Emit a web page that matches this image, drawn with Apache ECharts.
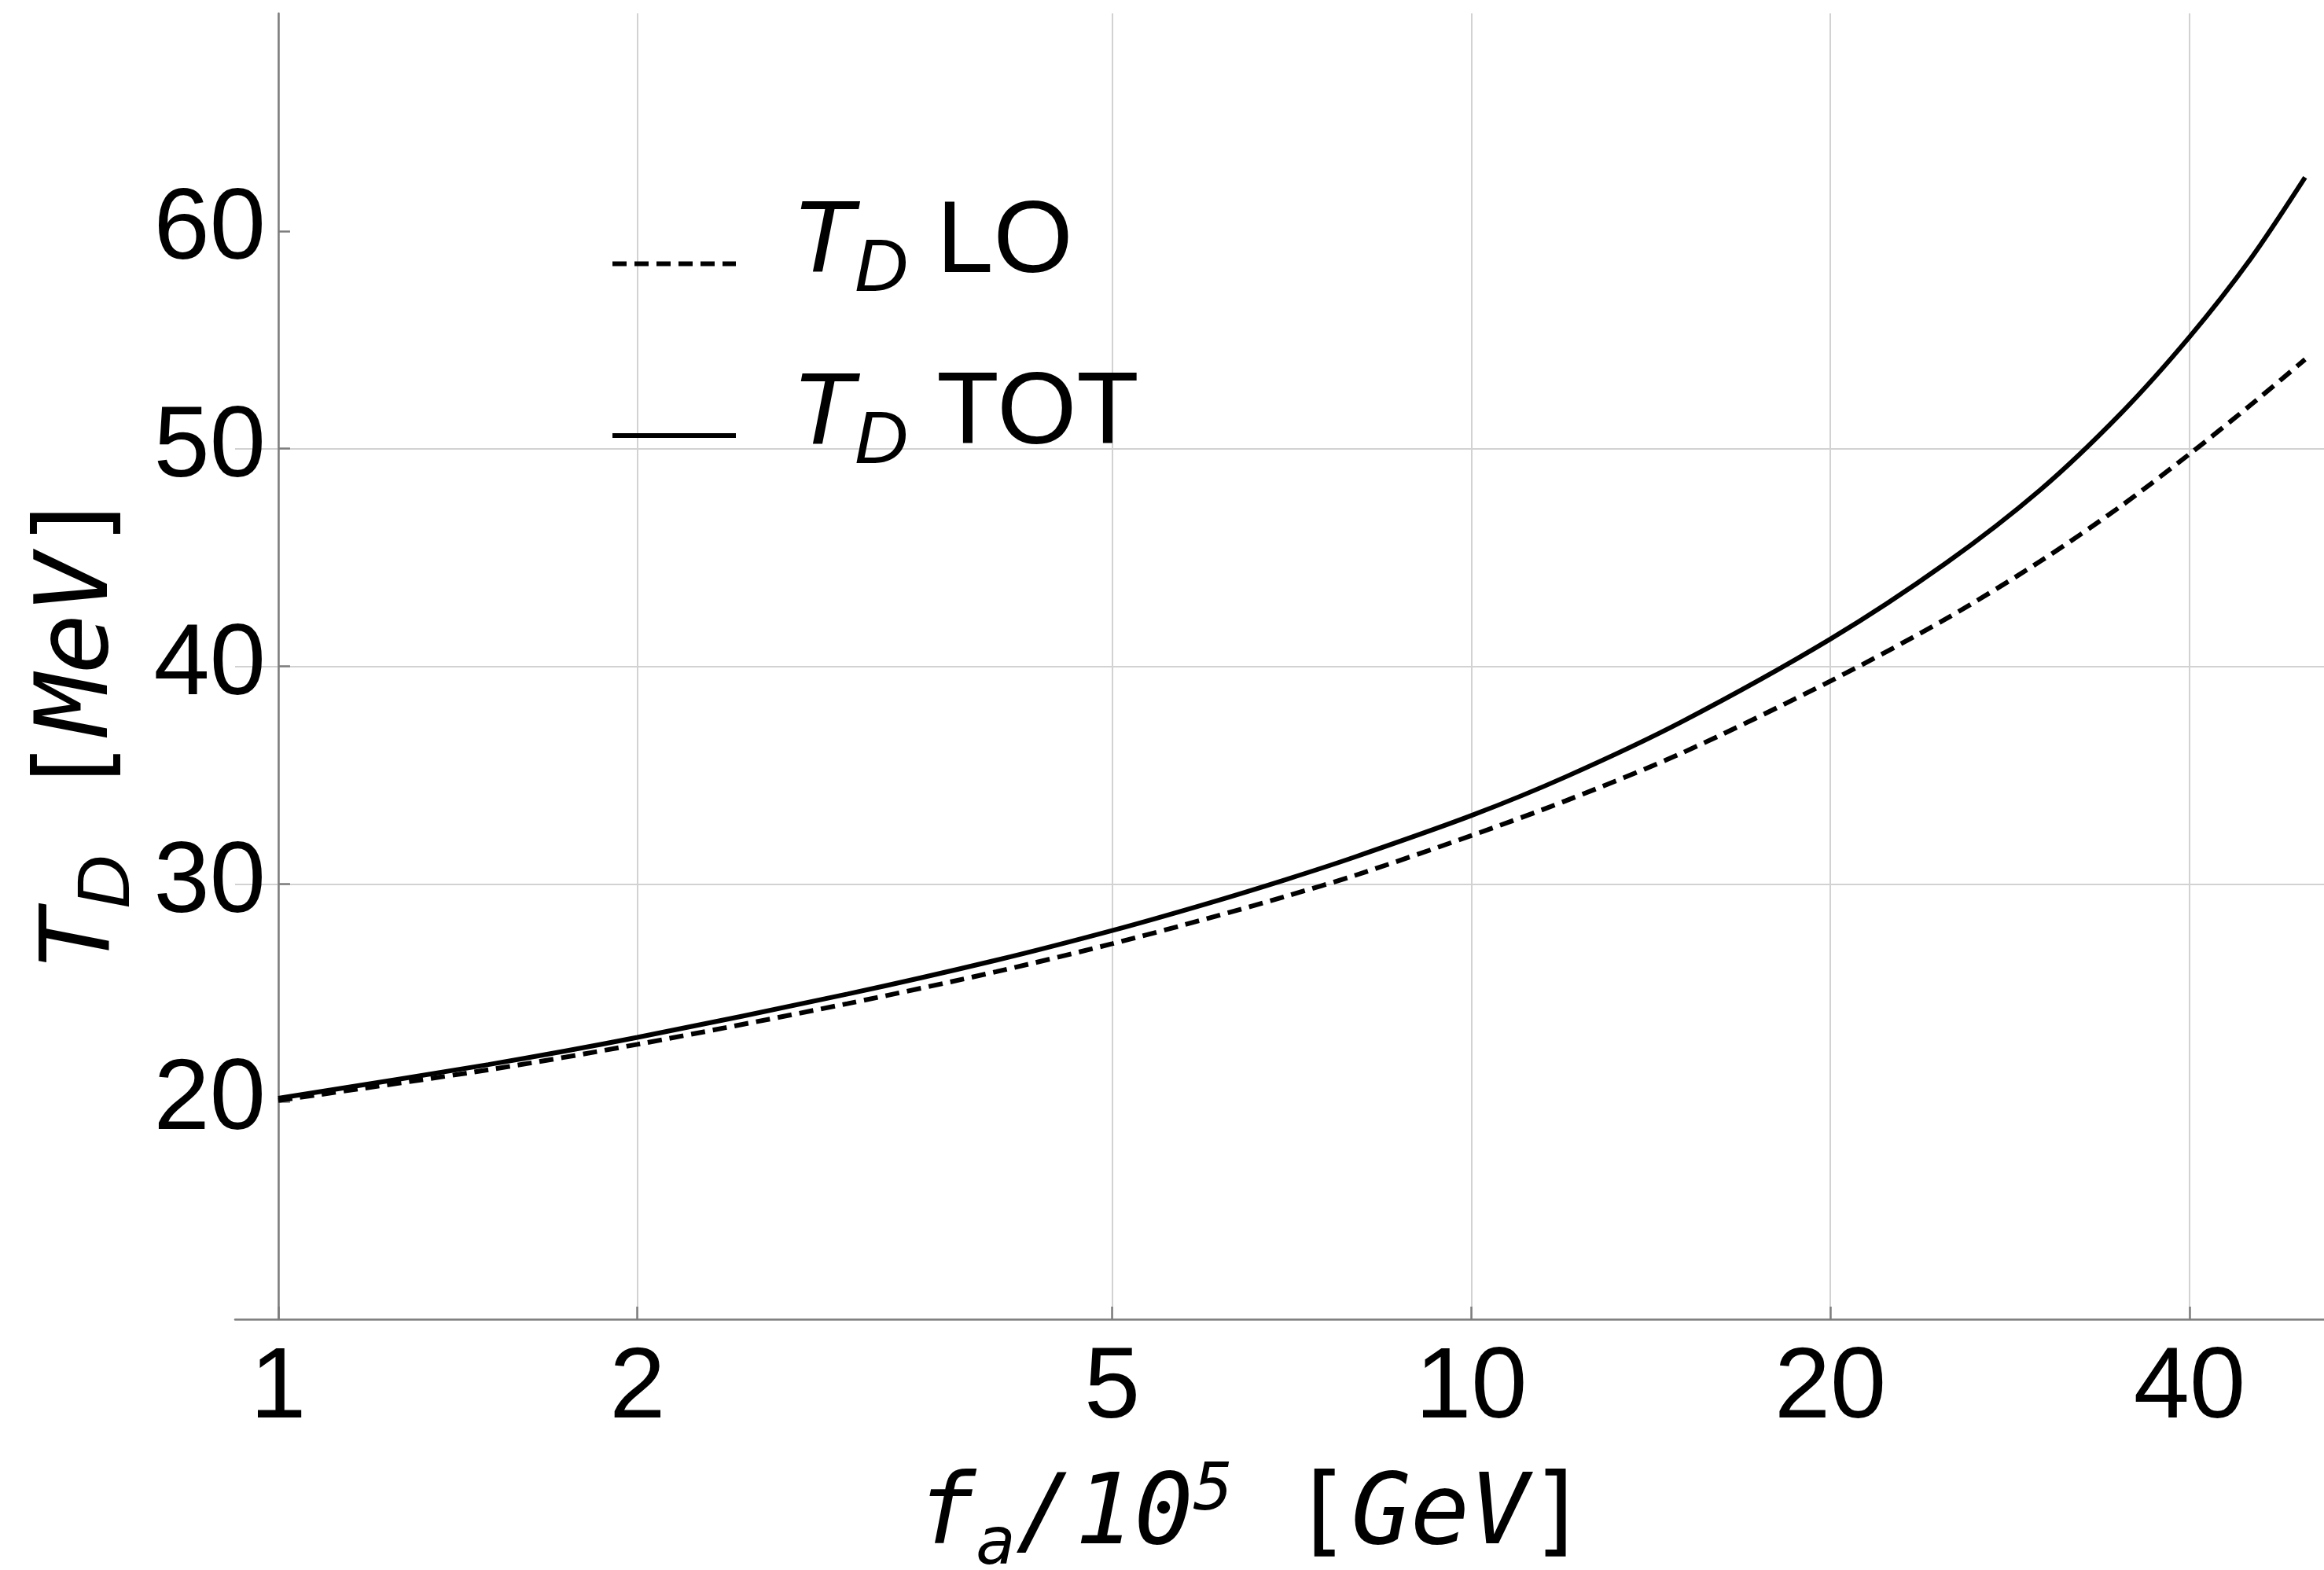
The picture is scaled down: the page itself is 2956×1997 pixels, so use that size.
<!DOCTYPE html>
<html>
<head>
<meta charset="utf-8">
<style>
  html, body { margin: 0; padding: 0; background: #fff; }
  #chart { width: 2956px; height: 1997px; }
</style>
<script src="https://cdn.jsdelivr.net/npm/echarts@6/dist/echarts.min.js"></script>
</head>
<body>
<div id="chart"></div>
<script>
// f_a / 10^5 GeV
var fa = [1, 1.5, 2, 3, 4, 5, 6, 7, 8, 10, 12, 15, 20, 25, 30, 35, 40, 45, 50];
// T_D [MeV], leading order (dashed)
var tdLO = [20.05, 21.46, 22.63, 24.50, 25.97, 27.25, 28.40, 29.44, 30.40, 32.22, 33.82, 36.00, 39.32, 42.18, 44.83, 47.34, 49.75, 52.00, 54.10];
// T_D [MeV], total (solid)
var tdTOT = [20.15, 21.70, 22.95, 24.94, 26.50, 27.86, 29.09, 30.21, 31.25, 33.14, 34.92, 37.44, 41.25, 44.74, 48.11, 51.59, 55.13, 58.71, 62.46];

var xTicks = [1, 2, 5, 10, 20, 40];
var yTicks = [20, 30, 40, 50, 60];

function pairs(xs, ys) {
    return xs.map(function (x, i) { return [x, ys[i]]; });
}

var sans = 'Liberation Sans';
var mono = 'DejaVu Sans Mono';
var axisGray = '#7d7d7d';
var gridGray = '#d2d2d2';
var noDot = { color: 'rgba(0,0,0,0)', borderColor: 'rgba(0,0,0,0)', borderWidth: 0 };

var chart = echarts.init(document.getElementById('chart'));

var option = {
    backgroundColor: '#fff',
    animation: false,
    grid: { left: 299, right: 0, top: 17, bottom: 319, containLabel: false, outerBoundsMode: 'none' },
    legend: {
        orient: 'vertical',
        left: 776,
        top: 245,
        padding: 0,
        itemGap: 72,
        itemWidth: 157,
        itemHeight: 20,
        selectedMode: false,
        data: [
            { name: 'LO', itemStyle: noDot, lineStyle: { color: '#000', width: 6, type: [18, 10] } },
            { name: 'TOT', itemStyle: noDot, lineStyle: { color: '#000', width: 6, type: 'solid' } }
        ],
        formatter: function (name) {
            return '{t|T}{d|D}{n| ' + name + '}';
        },
        textStyle: {
            padding: [0, 0, 51, 66],
            rich: {
                t: { fontFamily: sans, fontStyle: 'italic', fontSize: 130, lineHeight: 130, color: '#000' },
                d: { fontFamily: sans, fontStyle: 'italic', fontSize: 95, height: 62, verticalAlign: 'bottom', color: '#000' },
                n: { fontFamily: sans, fontSize: 130, lineHeight: 130, color: '#000' }
            }
        }
    },
    xAxis: {
        type: 'log',
        logBase: 10,
        min: 0.92,
        max: 51.86,
        axisLine: { show: true, onZero: false, lineStyle: { color: axisGray, width: 2.5 } },
        axisTick: { show: true, inside: true, length: 16, customValues: xTicks, lineStyle: { color: axisGray, width: 2.5 } },
        axisLabel: { customValues: xTicks, fontFamily: sans, fontSize: 128, color: '#000', margin: 26 },
        splitLine: { show: true, lineStyle: { color: gridGray, width: 2 } },
        minorTick: { show: false },
        minorSplitLine: { show: false },
        name: '{m|f}{sub|a}{m|/10}{sup|5}{m| }{br|[}{m|GeV}{br|]}',
        nameLocation: 'middle',
        nameGap: 190,
        nameTextStyle: {
            padding: [0, 69, 0, 0],
            rich: {
                m: { fontFamily: mono, fontStyle: 'italic', fontSize: 125, lineHeight: 125, color: '#000' },
                sub: { fontFamily: mono, fontStyle: 'italic', fontSize: 84, height: 51, verticalAlign: 'bottom', color: '#000' },
                sup: { fontFamily: mono, fontStyle: 'italic', fontSize: 84, height: 61, verticalAlign: 'top', color: '#000' },
                br: { fontFamily: mono, fontSize: 125, lineHeight: 125, color: '#000' }
            }
        }
    },
    yAxis: {
        type: 'value',
        min: 10,
        max: 70,
        interval: 10,
        offset: -55,
        axisLine: { show: true, onZero: false, lineStyle: { color: axisGray, width: 2.5 } },
        axisTick: { show: true, inside: true, length: 15, customValues: yTicks, lineStyle: { color: axisGray, width: 2.5 } },
        axisLabel: { customValues: yTicks, fontFamily: sans, fontSize: 128, color: '#000', margin: 16 },
        splitLine: { show: true, showMinLine: false, showMaxLine: false, lineStyle: { color: gridGray, width: 2 } },
        name: '{t|T}{d|D}{sp| }{br|[}{m|MeV}{br|]}',
        nameLocation: 'middle',
        nameRotate: 90,
        nameGap: 185,
        nameTextStyle: {
            padding: [0, 161, 0, 0],
            rich: {
                t: { fontFamily: sans, fontStyle: 'italic', fontSize: 130, lineHeight: 130, color: '#000' },
                d: { fontFamily: sans, fontStyle: 'italic', fontSize: 95, height: 62, verticalAlign: 'bottom', color: '#000' },
                sp: { fontFamily: mono, fontSize: 125, lineHeight: 130, width: 70 },
                m: { fontFamily: mono, fontStyle: 'italic', fontSize: 128, lineHeight: 130, color: '#000' },
                br: { fontFamily: mono, fontSize: 128, lineHeight: 130, color: '#000', padding: [0, 3, 0, 3] }
            }
        }
    },
    series: [
        {
            name: 'LO',
            type: 'line',
            data: pairs(fa, tdLO),
            symbol: 'none',
            smooth: 0.3,
            lineStyle: { color: '#000', width: 6, type: [18, 10] },
            itemStyle: { color: '#000' },
            z: 3
        },
        {
            name: 'TOT',
            type: 'line',
            data: pairs(fa, tdTOT),
            symbol: 'none',
            smooth: 0.3,
            lineStyle: { color: '#000', width: 6, type: 'solid' },
            itemStyle: { color: '#000' },
            z: 4
        }
    ]
};

chart.setOption(option);

// put the vertical axis line at f_a = 1, as in the original frame
var x1 = chart.convertToPixel({ xAxisIndex: 0 }, 1);
if (isFinite(x1)) {
    chart.setOption({ yAxis: { offset: -(x1 - 299) } });
}
</script>
</body>
</html>
